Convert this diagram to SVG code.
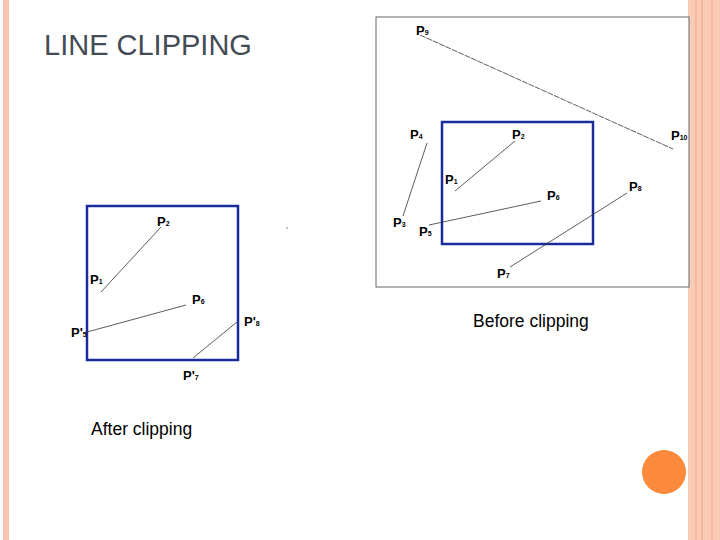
<svg xmlns="http://www.w3.org/2000/svg" width="720" height="540" viewBox="0 0 720 540">
<style>
.p{font-family:"Liberation Sans",Arial,sans-serif;font-weight:bold;font-size:13px;fill:#000}
.s{font-size:7px}
.l{stroke:#333;stroke-width:0.8;fill:none}
.clip{stroke:#1a2c9a;stroke-width:2.5;fill:none}
.cap{font-family:"Liberation Sans",Arial,sans-serif;font-size:17.5px;fill:#000}
</style>
<rect width="720" height="540" fill="#fff"/>
<rect x="3" y="0" width="6" height="540" fill="#f8c6b0"/>
<rect x="688" y="0" width="32" height="540" fill="#f9cbb6"/>
<line x1="696" y1="0" x2="696" y2="540" stroke="#eea586" stroke-width="1"/>
<line x1="702" y1="0" x2="702" y2="540" stroke="#eea586" stroke-width="1"/>
<line x1="712" y1="0" x2="712" y2="540" stroke="#eea586" stroke-width="1"/>
<circle cx="664" cy="472" r="22" fill="#fb8a3c"/>
<text x="44" y="55" font-family="Liberation Sans,Arial,sans-serif" font-size="29" fill="#444b55">LINE CLIPPING</text>
<g id="before">
<rect x="376" y="17" width="313" height="270" fill="#fff" stroke="#666" stroke-width="1"/>
<rect class="clip" x="442" y="122" width="151" height="122"/>
<g id="connectors-before">
<line class="l" x1="420" y1="35" x2="673" y2="149" stroke-dasharray="6 1"/>
<line class="l" x1="427" y1="143" x2="403" y2="216"/>
<line class="l" x1="515" y1="141" x2="455" y2="191"/>
<line class="l" x1="541" y1="201" x2="429" y2="225"/>
<line class="l" x1="627" y1="193" x2="510" y2="267"/>
</g>
<text class="p" x="416" y="35">P<tspan class="s">9</tspan></text>
<text class="p" x="671" y="140">P<tspan class="s">10</tspan></text>
<text class="p" x="410" y="139">P<tspan class="s">4</tspan></text>
<text class="p" x="393" y="227">P<tspan class="s">3</tspan></text>
<text class="p" x="512" y="139">P<tspan class="s">2</tspan></text>
<text class="p" x="445" y="184">P<tspan class="s">1</tspan></text>
<text class="p" x="547" y="200">P<tspan class="s">6</tspan></text>
<text class="p" x="419" y="236">P<tspan class="s">5</tspan></text>
<text class="p" x="629" y="191">P<tspan class="s">8</tspan></text>
<text class="p" x="497" y="278">P<tspan class="s">7</tspan></text>
<text class="cap" x="473" y="327">Before clipping</text>
</g>
<g id="after">
<rect class="clip" x="87" y="206" width="151" height="154"/>
<g id="connectors-after">
<line class="l" x1="161" y1="227" x2="101" y2="292"/>
<line class="l" x1="186" y1="305" x2="87" y2="332"/>
<line class="l" x1="237" y1="322" x2="193" y2="358"/>
</g>
<text class="p" x="157" y="226">P<tspan class="s">2</tspan></text>
<text class="p" x="90" y="284">P<tspan class="s">1</tspan></text>
<text class="p" x="192" y="304">P<tspan class="s">6</tspan></text>
<text class="p" x="71" y="337">P'<tspan class="s">5</tspan></text>
<text class="p" x="244" y="326">P'<tspan class="s">8</tspan></text>
<text class="p" x="183" y="380">P'<tspan class="s">7</tspan></text>
<circle cx="287" cy="228" r="0.7" fill="#555"/>
<text class="cap" x="91" y="435">After clipping</text>
</g>
</svg>
